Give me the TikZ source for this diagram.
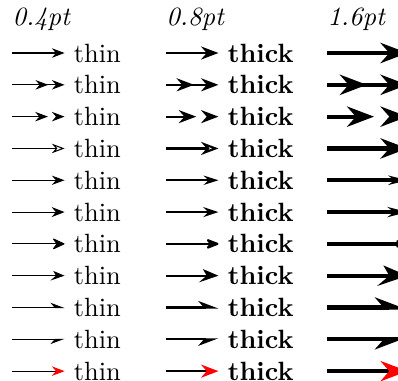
\documentclass[tikz,border=0pt]{standalone}
\usetikzlibrary{arrows.meta}
\begin{document}
\begin{tikzpicture}[x=1pt,y=1pt,
  hdr/.style={anchor=base west, inner sep=0pt, font=\itshape},
  lbl/.style={anchor=west}]
\useasboundingbox (-4.55,20.08) rectangle (146.2,-123.9);
\node[hdr] (h1) at (0,10.3) {0.4pt};
\node[hdr] (h2) at (58.3,10.3) {0.8pt};
\node[hdr] (h3) at (119.3,10.3) {1.6pt};
\newcommand\arrowrow[3]{%
  \coordinate (a#1) at (0,#2);
  \node[lbl] (ta#1) at (19.9,#2) {thin};
  \draw[line width=0.4pt,-{#3}] (a#1) -- (ta#1.west);
  \coordinate (b#1) at (58.3,#2);
  \node[lbl] (tb#1) at (78.2,#2) {\textbf{thick}};
  \draw[line width=0.8pt,-{#3}] (b#1) -- (tb#1.west);
  \coordinate (c#1) at (119.3,#2);
  \coordinate (tc#1) at (149.8,#2);
  \draw[line width=1.6pt,-{#3}] (c#1) -- (tc#1);
}
\arrowrow{1}{0}{Stealth[]}
\arrowrow{2}{-12.05}{Stealth[sep=0.13pt 3.17] Stealth[]}
\arrowrow{3}{-24.1}{Stealth[sep=1.2pt 0.8] . Stealth[]}
\arrowrow{4}{-36.15}{Stealth[open]}
\arrowrow{5}{-48.2}{Stealth[length=4pt 2,width=3.5pt]}
\arrowrow{6}{-60.25}{Stealth[length=4pt 2.2,width=3.8pt]}
\arrowrow{7}{-72.3}{Stealth[length=4pt 2.5,width=4.6pt,round]}
\arrowrow{8}{-84.35}{Stealth[slant=.3]}
\arrowrow{9}{-96.4}{Stealth[left]}
\arrowrow{10}{-108.45}{Stealth[right]}
\arrowrow{11}{-120.5}{Stealth[red]}
\end{tikzpicture}
\end{document}
